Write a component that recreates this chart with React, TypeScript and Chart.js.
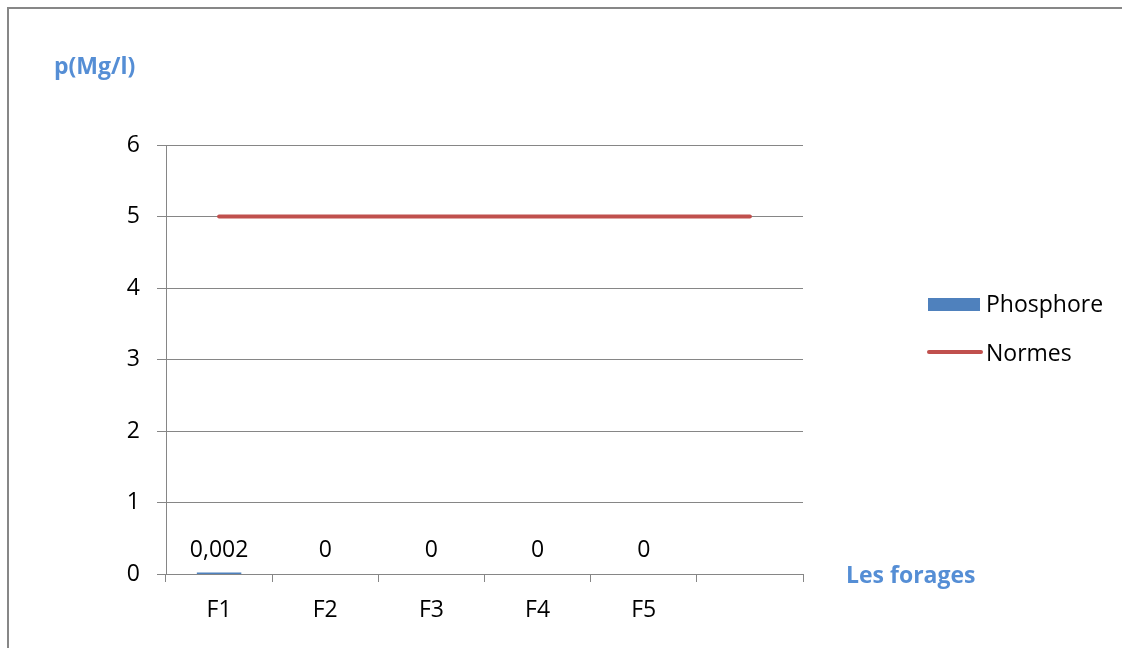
import React, { useEffect, useRef } from "react";
import { Chart, registerables } from "chart.js";

Chart.register(...registerables);

const categories = ["F1", "F2", "F3", "F4", "F5", ""];
const phosphoreValues: (number | null)[] = [0.002, 0, 0, 0, 0, null];
const normesValues = [5, 5, 5, 5, 5, 5];
const yTicks = [0, 1, 2, 3, 4, 5, 6];
const yTitle = "p(Mg/l)";
const xTitle = "Les forages";
const seriesNames = ["Phosphore", "Normes"];

const BLUE = "#4F81BD";
const RED = "#C0504D";
const TITLE_BLUE = "#558ED5";
const GRID = "#868686";
const FONT = "'Open Sans', 'Noto Sans', sans-serif";
const FS = 23;

const decorPlugin = {
  id: "decor",
  beforeDraw(chart: any) {
    const ctx = chart.ctx;
    ctx.save();
    ctx.fillStyle = "#fff";
    ctx.fillRect(0, 0, chart.width, chart.height);
    ctx.strokeStyle = "#878787";
    ctx.lineWidth = 2;
    ctx.strokeRect(8, 8, 1300, 800);
    ctx.restore();
  },
  afterDatasetsDraw(chart: any) {
    const ctx = chart.ctx;
    const yScale = chart.scales.y;
    const area = chart.chartArea;
    ctx.save();
    // data labels for bars
    const meta = chart.getDatasetMeta(0);
    ctx.font = `${FS}px ${FONT}`;
    ctx.fillStyle = "#000";
    ctx.textAlign = "center";
    ctx.textBaseline = "middle";
    meta.data.forEach((el: any, i: number) => {
      const v = phosphoreValues[i];
      if (v === null || v === undefined) return;
      const txt = String(v).replace(".", ",");
      ctx.fillText(txt, el.x, yScale.getPixelForValue(0) - 24);
    });
    // axis titles
    ctx.font = `bold ${FS}px ${FONT}`;
    ctx.fillStyle = TITLE_BLUE;
    ctx.textAlign = "left";
    ctx.fillText(yTitle, 54, 67);
    ctx.fillText(xTitle, area.right + 43, yScale.getPixelForValue(0) + 2);
    // legend
    const lx = 928;
    ctx.fillStyle = BLUE;
    ctx.fillRect(lx, 298, 52, 13);
    ctx.strokeStyle = RED;
    ctx.lineWidth = 4;
    ctx.lineCap = "round";
    ctx.beginPath();
    ctx.moveTo(lx + 1, 352);
    ctx.lineTo(lx + 53, 352);
    ctx.stroke();
    ctx.font = `${FS}px ${FONT}`;
    ctx.fillStyle = "#000";
    ctx.fillText(seriesNames[0], 986, 305);
    ctx.fillText(seriesNames[1], 986, 354);
    ctx.restore();
  },
};

export default function App() {
  const ref = useRef<HTMLCanvasElement>(null);
  useEffect(() => {
    if (!ref.current) return;
    const chart = new Chart(ref.current, {
      type: "bar",
      data: {
        labels: categories,
        datasets: [
          {
            type: "bar",
            label: seriesNames[0],
            data: phosphoreValues,
            backgroundColor: BLUE,
            categoryPercentage: 1,
            barPercentage: 0.4,
            inflateAmount: (c: any) => (c.raw > 0 ? 1 : 0),
            order: 2,
          } as any,
          {
            type: "line",
            label: seriesNames[1],
            data: normesValues,
            borderColor: RED,
            backgroundColor: RED,
            borderWidth: 4,
            borderCapStyle: "round",
            pointRadius: 0,
            tension: 0,
            order: 1,
          } as any,
        ],
      },
      options: {
        responsive: false,
        animation: false,
        layout: { padding: { left: 0, top: 145, right: 319, bottom: 0 } },
        plugins: {
          legend: { display: false },
          tooltip: { enabled: false },
        },
        scales: {
          x: {
            offset: true,
            grid: {
              offset: true,
              drawOnChartArea: false,
              drawTicks: true,
              tickLength: 8,
              color: GRID,
            },
            border: { color: GRID, width: 1 },
            ticks: {
              font: { family: FONT, size: FS },
              color: "#000",
              padding: 15,
              maxRotation: 0,
            },
            afterFit: (s: any) => {
              s.height = 74;
            },
          },
          y: {
            min: 0,
            max: 6,
            afterBuildTicks: (s: any) => {
              s.ticks = yTicks.map((v) => ({ value: v }));
            },
            grid: { color: GRID, tickLength: 9, drawTicks: true },
            border: { color: GRID, width: 1 },
            ticks: {
              font: { family: FONT, size: FS },
              color: "#000",
              padding: 17,
            },
            afterFit: (s: any) => {
              s.width = 166;
            },
          },
        },
      } as any,
      plugins: [decorPlugin],
    });
    return () => chart.destroy();
  }, []);
  return (
    <div
      style={{
        position: "fixed",
        left: 0,
        top: 0,
        width: 1122,
        height: 648,
        background: "#fff",
        overflow: "hidden",
      }}
    >
      <canvas ref={ref} width={1122} height={648} style={{ display: "block" }} />
    </div>
  );
}
